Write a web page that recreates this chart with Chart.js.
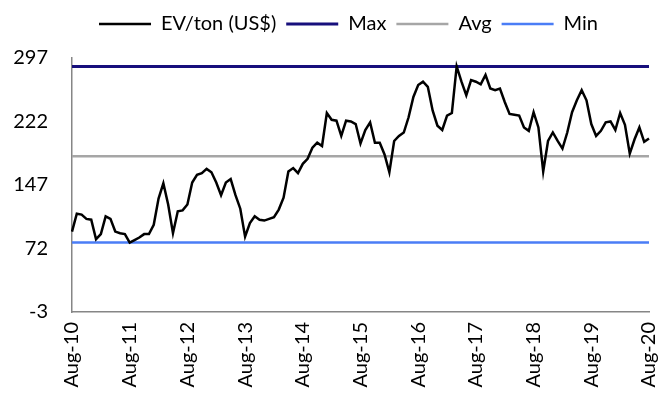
<!DOCTYPE html>
<html>
<head>
<meta charset="utf-8">
<script src="https://cdn.jsdelivr.net/npm/chart.js@4/dist/chart.umd.min.js"></script>
<style>
  html, body { margin: 0; padding: 0; background: #fff; }
  #wrap { width: 667px; height: 401px; position: relative; }
</style>
</head>
<body>
<div id="wrap"><canvas id="evChart"></canvas></div>
<script>
"use strict";

// Monthly EV/ton (US$), Aug-10 .. Aug-20
const EV_TON = [
   92, 113, 112, 107, 106,  83,  89, 110, 107,  92,  90,  89,
   79,  82,  85,  89,  89, 100, 131, 149, 124,  90, 116, 117,
  124, 150, 159, 161, 166, 162, 150, 135, 150, 154, 135, 119,
   86, 102, 110, 106, 105, 107, 109, 118, 132, 163, 167, 161,
  172, 178, 191, 197, 193, 232, 224, 223, 205, 223, 222, 219,
  196, 212, 221, 197, 197, 183, 162, 199, 205, 209, 227, 251,
  265, 269, 263, 235, 217, 212, 229, 232, 287, 269, 253, 271,
  269, 266, 277, 261, 259, 261, 245, 231, 230, 229, 215, 211,
  233, 215, 163, 199, 209, 199, 190, 209, 233, 247, 259, 247,
  219, 205, 211, 221, 222, 212, 232, 218, 184, 201, 215, 198,
  202
];

// Reference levels
const MAX_LEVEL = 287;
const AVG_LEVEL = 181;
const MIN_LEVEL = 79;

const MONTHS = ["Jan", "Feb", "Mar", "Apr", "May", "Jun",
                "Jul", "Aug", "Sep", "Oct", "Nov", "Dec"];
const START_YEAR = 2010;
const START_MONTH = 7; // Aug

const Y_TICKS = [-3, 72, 147, 222, 297];

const COLORS = {
  ev:  "#000000",
  max: "#170f7c",
  avg: "#a6a6a6",
  min: "#4a7df6",
  axis: "#868686",
  text: "#000000"
};

const FONT = "Lato, 'Open Sans', sans-serif";

// category labels, one per month
const labels = EV_TON.map((_, i) => {
  const m = START_MONTH + i;
  const yy = START_YEAR + Math.floor(m / 12);
  return MONTHS[m % 12] + "-" + String(yy % 100).padStart(2, "0");
});

const flat = v => EV_TON.map(() => v);

function lineSet(label, data, color, width, order) {
  return {
    label,
    data,
    borderColor: color,
    backgroundColor: color,
    borderWidth: width,
    pointRadius: 0,
    pointHoverRadius: 0,
    tension: 0,
    order
  };
}

// push the plot down below the legend, and nudge the legend to the right
const legendTweak = {
  id: "legendTweak",
  beforeInit(chart) {
    const fit = chart.legend.fit;
    chart.legend.fit = function () {
      fit.bind(chart.legend)();
      this.height += 14;
    };
  },
  afterLayout(chart) {
    chart.legend.left += 24;
    chart.legend.right += 24;
  }
};

new Chart(document.getElementById("evChart").getContext("2d"), {
  type: "line",
  data: {
    labels,
    datasets: [
      lineSet("EV/ton (US$)", EV_TON, COLORS.ev, 2.5, 0),
      lineSet("Max", flat(MAX_LEVEL), COLORS.max, 3, 1),
      lineSet("Avg", flat(AVG_LEVEL), COLORS.avg, 2.5, 2),
      lineSet("Min", flat(MIN_LEVEL), COLORS.min, 2.5, 3)
    ]
  },
  plugins: [legendTweak],
  options: {
    responsive: true,
    maintainAspectRatio: false,
    animation: false,
    layout: { padding: { top: 4, right: 18, left: 0, bottom: 0 } },
    plugins: {
      legend: {
        position: "top",
        labels: {
          usePointStyle: true,
          pointStyle: "line",
          pointStyleWidth: 52,
          padding: 10,
          color: COLORS.text,
          font: { family: FONT, size: 20 }
        }
      },
      tooltip: { enabled: false }
    },
    scales: {
      x: {
        type: "category",
        offset: false,
        grid: { display: false, drawTicks: false },
        border: { display: true, color: COLORS.axis, width: 1.5 },
        ticks: {
          autoSkip: false,
          minRotation: 90,
          maxRotation: 90,
          padding: 10,
          color: COLORS.text,
          font: { family: FONT, size: 20 },
          callback: (v, i) => (i % 12 === 0 ? labels[i] : "")
        },
        afterFit: scale => {
          scale.height = 89;
          scale.paddingLeft = 0;
          scale.paddingRight = 0;
        }
      },
      y: {
        min: -3,
        max: 297,
        grid: { display: false, drawTicks: false },
        border: { display: true, color: COLORS.axis, width: 1.5 },
        ticks: {
          padding: 24,
          color: COLORS.text,
          font: { family: FONT, size: 20 }
        },
        afterBuildTicks: scale => { scale.ticks = Y_TICKS.map(v => ({ value: v })); },
        afterFit: scale => { scale.width = 72; }
      }
    }
  }
});
</script>
</body>
</html>
